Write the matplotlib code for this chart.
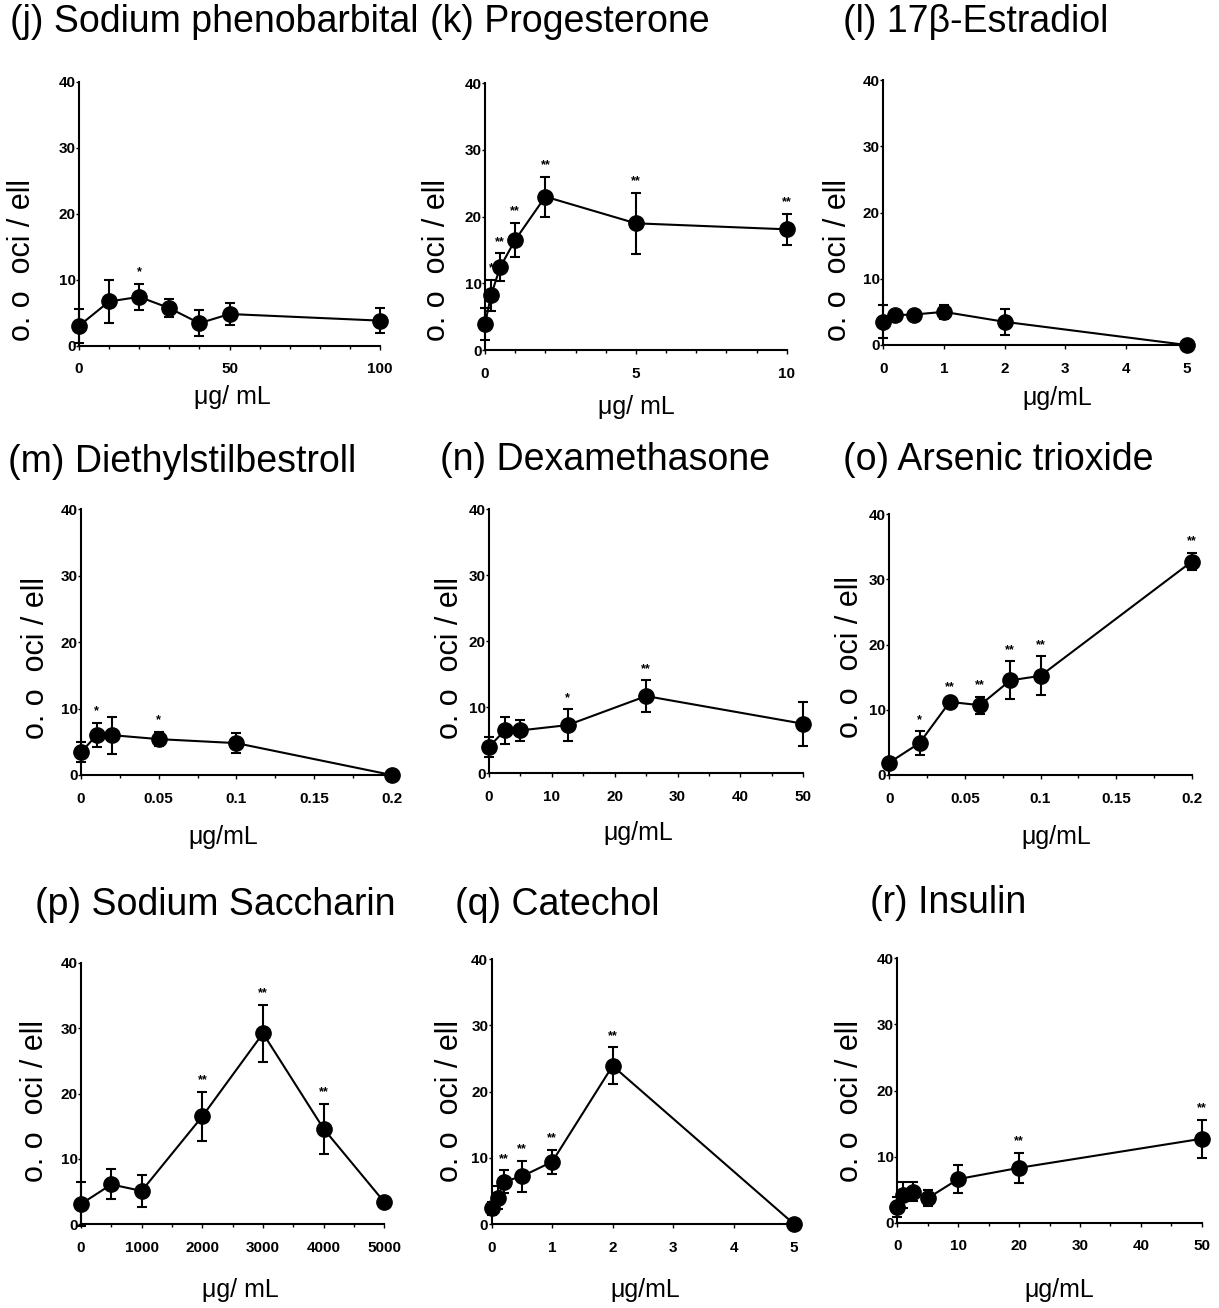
import matplotlib
matplotlib.use("Agg")
import matplotlib.pyplot as plt
from matplotlib.ticker import MultipleLocator, FixedLocator

plt.rcParams['font.family'] = ['Liberation Sans', 'DejaVu Sans']

# (j) Sodium phenobarbital
j_x = [0, 10, 20, 30, 40, 50, 100]
j_y = [3.0, 6.7, 7.4, 5.7, 3.4, 4.8, 3.8]
j_err = [2.6, 3.3, 2.0, 1.4, 2.0, 1.7, 1.9]
j_stars = ['', '', '*', '', '', '', '']

# (k) Progesterone
k_x = [0, 0.2, 0.5, 1, 2, 5, 10]
k_y = [3.9, 8.2, 12.4, 16.5, 23.0, 19.0, 18.1]
k_err = [2.4, 2.3, 2.1, 2.6, 3.0, 4.6, 2.3]
k_stars = ['', '*', '**', '**', '**', '**', '**']

# (l) 17β-Estradiol
l_x = [0, 0.2, 0.5, 1, 2, 5]
l_y = [3.5, 4.5, 4.6, 5.0, 3.5, 0.0]
l_err = [2.5, 0.3, 0.3, 1.0, 2.0, 0.0]
l_stars = ['', '', '', '', '', '']

# (m) Diethylstilbestroll
m_x = [0, 0.01, 0.02, 0.05, 0.1, 0.2]
m_y = [3.4, 6.0, 6.0, 5.4, 4.8, 0.0]
m_err = [1.5, 1.8, 2.8, 1.1, 1.5, 0.0]
m_stars = ['', '*', '', '*', '', '']

# (n) Dexamethasone
n_x = [0, 2.5, 5, 12.5, 25, 50]
n_y = [4.0, 6.5, 6.5, 7.3, 11.7, 7.5]
n_err = [1.5, 2.0, 1.6, 2.4, 2.4, 3.3]
n_stars = ['', '', '', '*', '**', '']

# (o) Arsenic trioxide
o_x = [0, 0.02, 0.04, 0.06, 0.08, 0.1, 0.2]
o_y = [1.9, 4.9, 11.2, 10.7, 14.5, 15.2, 32.7]
o_err = [0.3, 1.8, 0.5, 1.3, 2.9, 3.0, 1.3]
o_stars = ['', '*', '**', '**', '**', '**', '**']

# (p) Sodium Saccharin
p_x = [0, 500, 1000, 2000, 3000, 4000, 5000]
p_y = [3.1, 6.1, 5.1, 16.5, 29.2, 14.6, 3.4]
p_err = [3.4, 2.3, 2.5, 3.7, 4.4, 3.8, 0.0]
p_stars = ['', '', '', '**', '**', '**', '']

# (q) Catechol
q_x = [0, 0.1, 0.2, 0.5, 1, 2, 5]
q_y = [2.4, 4.0, 6.4, 7.2, 9.4, 23.9, 0.0]
q_err = [1.0, 1.8, 1.7, 2.3, 1.8, 2.8, 0.0]
q_stars = ['', '', '**', '**', '**', '**', '']

# (r) Insulin
r_x = [0, 1, 2.5, 5, 10, 20, 50]
r_y = [2.4, 4.2, 4.7, 3.7, 6.6, 8.3, 12.7]
r_err = [1.5, 2.0, 1.4, 1.2, 2.1, 2.3, 2.9]
r_stars = ['', '', '', '', '', '**', '**']

titles = ['(j) Sodium phenobarbital', '(k) Progesterone', '(l) 17β-Estradiol',
          '(m) Diethylstilbestroll', '(n) Dexamethasone', '(o) Arsenic trioxide',
          '(p) Sodium Saccharin', '(q) Catechol', '(r) Insulin']
xlabels = ['μg/ mL', 'μg/ mL', 'μg/mL',
           'μg/mL', 'μg/mL', 'μg/mL',
           'μg/ mL', 'μg/mL', 'μg/mL']
ylabel = 'o. o  oci / ell'

xmax = [100, 10, 5, 0.2, 50, 0.2, 5000, 5, 50]
xmajor = [[0, 50, 100], [0, 5, 10], [0, 1, 2, 3, 4, 5],
          [0, 0.05, 0.1, 0.15, 0.2], [0, 10, 20, 30, 40, 50], [0, 0.05, 0.1, 0.15, 0.2],
          [0, 1000, 2000, 3000, 4000, 5000], [0, 1, 2, 3, 4, 5], [0, 10, 20, 30, 40, 50]]
xticklabels = [['0', '50', '100'], ['0', '5', '10'], ['0', '1', '2', '3', '4', '5'],
               ['0', '0.05', '0.1', '0.15', '0.2'], ['0', '10', '20', '30', '40', '50'],
               ['0', '0.05', '0.1', '0.15', '0.2'],
               ['0', '1000', '2000', '3000', '4000', '5000'], ['0', '1', '2', '3', '4', '5'],
               ['0', '10', '20', '30', '40', '50']]
xminor = [10, 1, None, 0.025, 5, 0.025, 500, None, 5]

series = [(j_x, j_y, j_err, j_stars), (k_x, k_y, k_err, k_stars), (l_x, l_y, l_err, l_stars),
          (m_x, m_y, m_err, m_stars), (n_x, n_y, n_err, n_stars), (o_x, o_y, o_err, o_stars),
          (p_x, p_y, p_err, p_stars), (q_x, q_y, q_err, q_stars), (r_x, r_y, r_err, r_stars)]

W, H = 1219, 1308
# axes box in pixels: left, right, y of 0, y of 40
boxes = [(79, 380, 345.7, 81.7), (485, 786.7, 350, 83.3), (883.3, 1186.7, 345, 80),
         (81, 391.7, 775, 509.3), (489, 803.3, 773.3, 509.3), (889.3, 1191.7, 775, 514),
         (81, 384.3, 1224.3, 962.7), (491.7, 794, 1224, 959.3), (897.3, 1201.7, 1222.7, 958.3)]
title_pos = [(10, 22), (430, 22), (843, 22),
             (8, 462), (440, 460), (843, 460),
             (35, 905), (455, 905), (870, 903)]
ylab_pos = [(22.5, 260), (437, 260), (838, 260),
            (36, 658), (449.5, 658), (850, 657),
            (35, 1101), (450, 1101), (849.5, 1101)]
xlab_pos = [(232.5, 397), (636, 407), (1057, 398),
            (223, 837), (638, 833), (1056, 837),
            (240, 1290), (645, 1290), (1059.5, 1290)]

fig = plt.figure(figsize=(W / 100, H / 100), dpi=100)

for i in range(9):
    x, y, err, stars = series[i]
    left, right, y0, y40 = boxes[i]
    ax = fig.add_axes([left / W, 1 - y0 / H, (right - left) / W, (y0 - y40) / H])
    ax.errorbar(x, y, yerr=err, fmt='o-', color='black', ms=11, lw=1.5,
                elinewidth=1.5, capsize=3.6, capthick=1.5, clip_on=False, zorder=3)
    for xi, yi, ei, s in zip(x, y, err, stars):
        if s:
            ax.annotate(s, (xi, yi + ei), xytext=(0, 4), textcoords='offset points',
                        ha='center', va='bottom', fontsize=9, fontweight='bold')
    ax.set_xlim(0, xmax[i])
    ax.set_ylim(0, 40)
    ax.spines['top'].set_visible(False)
    ax.spines['right'].set_visible(False)
    ax.spines['left'].set_linewidth(1.5)
    ax.spines['bottom'].set_linewidth(1.5)
    ax.xaxis.set_major_locator(FixedLocator(xmajor[i]))
    ax.set_xticklabels(xticklabels[i], fontsize=11, fontweight='bold')
    if xminor[i]:
        ax.xaxis.set_minor_locator(MultipleLocator(xminor[i]))
    ax.set_yticks([0, 10, 20, 30, 40])
    ax.set_yticklabels(['0', '10', '20', '30', '40'], fontsize=11, fontweight='bold')
    ax.tick_params(axis='y', direction='out', length=2, width=1, pad=0.5)
    ax.tick_params(axis='x', which='major', direction='out', length=3, width=1, pad=9)
    ax.tick_params(axis='x', which='minor', direction='out', length=2, width=1)
    ax.patch.set_alpha(0)

    tx, ty = title_pos[i]
    fig.text(tx / W, 1 - ty / H, titles[i], fontsize=27, ha='left', va='center')
    lx, ly = ylab_pos[i]
    fig.text(lx / W, 1 - ly / H, ylabel, fontsize=22, rotation=90, ha='center', va='center')
    bx, by = xlab_pos[i]
    fig.text(bx / W, 1 - by / H, xlabels[i], fontsize=18, ha='center', va='center')

fig.savefig('out.png', dpi=100, facecolor='white')
